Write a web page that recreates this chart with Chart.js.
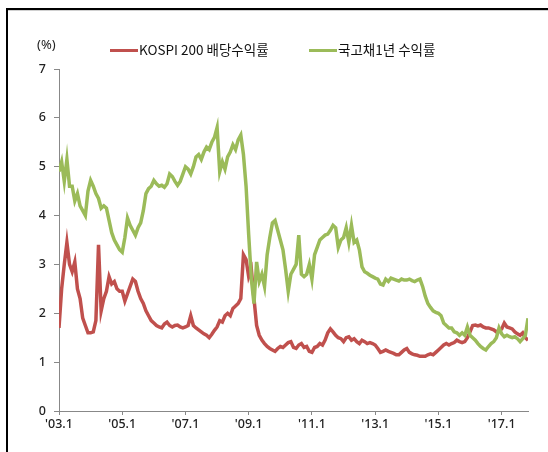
<!DOCTYPE html>
<html>
<head>
<meta charset="UTF-8"/>
<title>KOSPI 200 배당수익률 vs 국고채1년 수익률</title>
<script src="https://cdn.jsdelivr.net/npm/chart.js@4.4.0/dist/chart.umd.min.js"></script>
<style>
    html, body { margin: 0; padding: 0; background: #fff; }
    #wrap { position: relative; width: 548px; height: 452px; overflow: hidden; }
    #frame { position: absolute; left: 6px; top: 8px; width: 600px; height: 500px;
             border-top: 2px solid #000; border-left: 2px solid #000; }
    #frame:after { content: ''; position: absolute; left: 0; top: 0; right: 0; height: 1px; background: #d0d0d0; }
    #unit { position: absolute; left: 37px; top: 35px; font: 13px "Noto Sans", sans-serif; color: #222; }
    .leg { position: absolute; top: 39px; font: 13.5px "Noto Sans CJK KR", sans-serif; color: #111; white-space: nowrap; }
    .leg i { display: inline-block; width: 28px; height: 3px; vertical-align: middle; margin-right: 1px; position: relative; top: -1px; }
    canvas { position: absolute; left: 0; top: 0; }
</style>
</head>
<body>
<div id="wrap">
    <div id="frame"></div>
    <canvas id="chart" width="548" height="452"></canvas>
    <div id="unit">(%)</div>
    <div class="leg" id="leg0" style="left:110px"></div>
    <div class="leg" id="leg1" style="left:309px"></div>
</div>
<script type="text/javascript">
    // 계열 이름
    var seriesNames = ['KOSPI 200 배당수익률', '국고채1년 수익률'];
    var seriesColors = ['#C0504D', '#9BBB59'];

    // x축 눈금 (월 인덱스, 2003.1 = 0)
    var tickMonths = [0, 24, 48, 72, 96, 120, 144, 168];
    var tickLabels = ["'03.1", "'05.1", "'07.1", "'09.1", "'11.1", "'13.1", "'15.1", "'17.1"];
    var yTicks = [0, 1, 2, 3, 4, 5, 6, 7];

    // KOSPI 200 배당수익률 (월별, 2003.1 ~ 2017.11)
    var kospiDiv = [
        1.70, 2.50, 3.00, 3.45, 3.00, 2.85, 3.05, 2.50, 2.30, 1.90, 1.75, 1.60,
        1.60, 1.62, 1.85, 3.40, 2.05, 2.30, 2.45, 2.75, 2.60, 2.65, 2.50, 2.45,
        2.45, 2.25, 2.40, 2.55, 2.70, 2.65, 2.45, 2.30, 2.20, 2.05, 1.95, 1.85,
        1.80, 1.75, 1.72, 1.70, 1.78, 1.82, 1.75, 1.72, 1.75, 1.76, 1.72, 1.70,
        1.72, 1.75, 1.95, 1.75, 1.70, 1.66, 1.62, 1.58, 1.55, 1.50, 1.57, 1.65,
        1.72, 1.85, 1.82, 1.95, 2.00, 1.95, 2.10, 2.15, 2.20, 2.30, 3.20, 3.10,
        2.75, 2.90, 2.30, 1.75, 1.55, 1.45, 1.38, 1.32, 1.28, 1.25, 1.22, 1.28,
        1.32, 1.30, 1.35, 1.40, 1.42, 1.30, 1.28, 1.35, 1.38, 1.30, 1.32, 1.22,
        1.20, 1.30, 1.32, 1.38, 1.35, 1.45, 1.60, 1.68, 1.62, 1.55, 1.50, 1.48,
        1.42, 1.50, 1.52, 1.45, 1.48, 1.42, 1.38, 1.45, 1.42, 1.38, 1.40, 1.38,
        1.35, 1.28, 1.20, 1.22, 1.25, 1.22, 1.20, 1.18, 1.15, 1.15, 1.20, 1.25,
        1.28, 1.20, 1.17, 1.15, 1.14, 1.12, 1.12, 1.12, 1.15, 1.17, 1.15, 1.20,
        1.25, 1.30, 1.35, 1.38, 1.35, 1.38, 1.40, 1.45, 1.42, 1.40, 1.42, 1.50,
        1.62, 1.75, 1.76, 1.74, 1.76, 1.72, 1.70, 1.70, 1.68, 1.66, 1.62, 1.65,
        1.68, 1.80, 1.72, 1.70, 1.68, 1.62, 1.58, 1.55, 1.60, 1.50, 1.45
    ];

    // 국고채 1년 수익률 (월별, 2003.1 ~ 2017.11)
    var ktb1y = [
        4.90, 5.10, 4.70, 5.15, 4.60, 4.60, 4.30, 4.45, 4.20, 4.10, 4.00, 4.50,
        4.72, 4.60, 4.45, 4.35, 4.15, 4.20, 4.15, 3.90, 3.65, 3.50, 3.40, 3.30,
        3.25, 3.55, 3.95, 3.80, 3.70, 3.60, 3.75, 3.85, 4.10, 4.45, 4.55, 4.60,
        4.72, 4.65, 4.60, 4.62, 4.58, 4.65, 4.85, 4.80, 4.70, 4.62, 4.70, 4.85,
        5.00, 4.95, 4.85, 5.00, 5.20, 5.25, 5.15, 5.30, 5.40, 5.35, 5.50, 5.60,
        5.80, 4.90, 5.10, 4.95, 5.20, 5.30, 5.45, 5.35, 5.55, 5.65, 5.25, 4.60,
        3.60, 2.70, 2.20, 3.05, 2.65, 2.80, 2.55, 3.20, 3.55, 3.85, 3.90, 3.70,
        3.50, 3.30, 2.90, 2.45, 2.80, 2.90, 3.00, 3.60, 2.80, 2.75, 2.80, 3.00,
        2.70, 3.20, 3.35, 3.50, 3.55, 3.60, 3.62, 3.70, 3.80, 3.75, 3.35, 3.50,
        3.55, 3.75, 3.45, 3.80, 3.45, 3.50, 3.30, 2.95, 2.85, 2.82, 2.78, 2.75,
        2.72, 2.70, 2.60, 2.58, 2.70, 2.65, 2.72, 2.70, 2.68, 2.66, 2.70, 2.68,
        2.68, 2.70, 2.67, 2.65, 2.68, 2.70, 2.55, 2.35, 2.20, 2.12, 2.05, 2.02,
        2.00, 1.95, 1.80, 1.75, 1.70, 1.70, 1.62, 1.60, 1.55, 1.60, 1.55, 1.72,
        1.55, 1.50, 1.45, 1.38, 1.32, 1.28, 1.25, 1.32, 1.38, 1.42, 1.50, 1.70,
        1.58, 1.52, 1.55, 1.52, 1.50, 1.52, 1.48, 1.42, 1.48, 1.55, 1.90
    ];

    function toPoints(arr) {
        var pts = [];
        for (var i = 0; i < arr.length; i++) {
            pts.push({x: i, y: arr[i]});
        }
        return pts;
    }

    // 범례 (HTML)
    for (var k = 0; k < seriesNames.length; k++) {
        document.getElementById('leg' + k).innerHTML =
            '<i style="background:' + seriesColors[k] + '"></i>' + seriesNames[k];
    }

    var tickFont = {family: '"Noto Sans", sans-serif', size: 12.5, weight: '500'};

    var ctx = document.getElementById('chart').getContext('2d');
    var chart = new Chart(ctx, {
        type: 'line',
        data: {
            datasets: [{
                label: seriesNames[0],
                data: toPoints(kospiDiv),
                borderColor: seriesColors[0],
                borderWidth: 3.5,
                pointRadius: 0,
                tension: 0,
                order: 1
            }, {
                label: seriesNames[1],
                data: toPoints(ktb1y),
                borderColor: seriesColors[1],
                borderWidth: 3.5,
                pointRadius: 0,
                tension: 0,
                order: 0
            }]
        },
        options: {
            responsive: false,
            animation: false,
            layout: {padding: {left: 0, right: 20, top: 69, bottom: 0}},
            plugins: {legend: {display: false}, tooltip: {enabled: false}},
            scales: {
                x: {
                    type: 'linear',
                    min: 0,
                    max: 178,
                    afterFit: function(s) { s.height = 41; },
                    afterBuildTicks: function(s) {
                        s.ticks = tickMonths.map(function(v) { return {value: v}; });
                    },
                    ticks: {
                        autoSkip: false,
                        maxRotation: 0,
                        color: '#222',
                        font: tickFont,
                        padding: 2,
                        callback: function(v) {
                            var i = tickMonths.indexOf(v);
                            return i >= 0 ? tickLabels[i] : '';
                        }
                    },
                    grid: {drawOnChartArea: false, drawTicks: true, tickLength: 4, color: '#888'},
                    border: {color: '#888', width: 1}
                },
                y: {
                    min: 0,
                    max: 7,
                    afterFit: function(s) { s.width = 59; },
                    afterBuildTicks: function(s) {
                        s.ticks = yTicks.map(function(v) { return {value: v}; });
                    },
                    ticks: {
                        color: '#222',
                        font: tickFont,
                        padding: 8
                    },
                    grid: {drawOnChartArea: false, drawTicks: true, tickLength: 5, color: '#888'},
                    border: {color: '#888', width: 1}
                }
            }
        }
    });
</script>
</body>
</html>
